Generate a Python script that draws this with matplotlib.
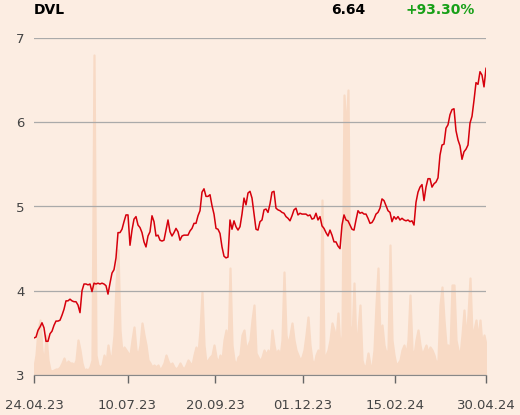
import numpy as np
import pandas as pd
import matplotlib
matplotlib.use("Agg")
import matplotlib.pyplot as plt
import matplotlib.dates as mdates

# Kursdaten DVL, gleichmaessig verteilt 24.04.23 - 30.04.24
start_date = "2023-04-24"
end_date = "2024-04-30"

prices = [
    3.44, 3.45, 3.53, 3.57, 3.62, 3.56, 3.40, 3.40, 3.49, 3.52,
    3.59, 3.64, 3.64, 3.65, 3.71, 3.78, 3.88, 3.88, 3.90, 3.88,
    3.87, 3.87, 3.83, 3.74, 4.00, 4.08, 4.08, 4.07, 4.08, 3.99,
    4.09, 4.08, 4.09, 4.08, 4.09, 4.08, 4.06, 3.96, 4.09, 4.21,
    4.25, 4.39, 4.69, 4.69, 4.73, 4.82, 4.90, 4.90, 4.54, 4.72,
    4.85, 4.88, 4.78, 4.75, 4.69, 4.58, 4.52, 4.65, 4.70, 4.89,
    4.82, 4.65, 4.66, 4.60, 4.59, 4.60, 4.72, 4.84, 4.70, 4.65,
    4.69, 4.74, 4.70, 4.60, 4.65, 4.66, 4.66, 4.66, 4.71, 4.74,
    4.80, 4.80, 4.89, 4.95, 5.17, 5.21, 5.12, 5.12, 5.14, 5.01,
    4.91, 4.74, 4.73, 4.68, 4.52, 4.41, 4.39, 4.40, 4.84, 4.73,
    4.83, 4.76, 4.72, 4.76, 4.91, 5.10, 5.02, 5.16, 5.18, 5.10,
    4.91, 4.73, 4.72, 4.82, 4.84, 4.96, 4.97, 4.93, 5.03, 5.17,
    5.18, 4.98, 4.96, 4.95, 4.93, 4.92, 4.88, 4.86, 4.83, 4.89,
    4.96, 4.98, 4.90, 4.92, 4.91, 4.91, 4.91, 4.89, 4.90, 4.85,
    4.86, 4.92, 4.84, 4.88, 4.77, 4.74, 4.69, 4.65, 4.72, 4.66,
    4.58, 4.58, 4.53, 4.50, 4.78, 4.90, 4.84, 4.83, 4.78, 4.73,
    4.72, 4.84, 4.95, 4.92, 4.93, 4.91, 4.91, 4.86, 4.80, 4.81,
    4.85, 4.91, 4.93, 4.98, 5.09, 5.07, 5.01, 4.95, 4.93, 4.82,
    4.88, 4.85, 4.88, 4.84, 4.86, 4.84, 4.83, 4.84, 4.82, 4.83,
    4.78, 5.05, 5.17, 5.23, 5.26, 5.07, 5.23, 5.33, 5.33, 5.23,
    5.27, 5.29, 5.34, 5.61, 5.73, 5.74, 5.93, 5.97, 6.09, 6.15,
    6.16, 5.90, 5.79, 5.72, 5.56, 5.65, 5.68, 5.73, 5.99, 6.07,
    6.26, 6.47, 6.45, 6.60, 6.56, 6.42, 6.64,
]

# Umsatz (relative Einheiten)
volume = [
    8, 20, 45, 55, 25, 10, 40, 15, 5, 4,
    5, 6, 6, 8, 12, 17, 10, 14, 12, 12,
    10, 15, 35, 25, 12, 5, 6, 5, 8, 15,
    320, 20, 10, 8, 10, 20, 12, 30, 17, 20,
    40, 90, 125, 45, 22, 28, 25, 22, 20, 35,
    48, 25, 20, 30, 52, 40, 30, 15, 12, 8,
    10, 8, 10, 5, 8, 12, 20, 14, 10, 12,
    8, 6, 8, 12, 8, 6, 10, 15, 12, 10,
    20, 28, 22, 45, 83, 30, 12, 15, 18, 20,
    30, 18, 12, 20, 15, 35, 45, 22, 107, 30,
    15, 10, 18, 20, 40, 45, 25, 30, 35, 55,
    70, 22, 18, 14, 18, 25, 20, 25, 18, 45,
    30, 20, 25, 18, 35, 103, 40, 30, 40, 52,
    35, 25, 20, 15, 18, 25, 40, 58, 30, 15,
    10, 20, 25, 20, 175, 15, 20, 25, 35, 52,
    45, 35, 62, 25, 40, 280, 240, 285, 50, 35,
    92, 25, 45, 70, 15, 8, 10, 22, 10, 8,
    25, 70, 107, 35, 50, 30, 22, 25, 130, 35,
    20, 10, 12, 15, 25, 30, 20, 35, 80, 25,
    20, 35, 45, 30, 20, 25, 30, 22, 28, 25,
    20, 12, 15, 70, 88, 55, 30, 30, 25, 90,
    90, 35, 25, 20, 40, 65, 35, 60, 97, 40,
    45, 55, 35, 55, 30, 40, 30,
]

tick_dates = ["2023-04-24", "2023-07-10", "2023-09-20",
              "2023-12-01", "2024-02-15", "2024-04-30"]

title = "DVL"
last_price = "6.64"
change = "+93.30%"

bg = "#fcede2"
vol_color = "#f8dac5"
dates = pd.date_range(start_date, end_date, periods=len(prices))

fig = plt.figure(figsize=(5.2, 4.15), dpi=100, facecolor=bg)
ax_v = fig.add_axes([34 / 520, 1 - 375 / 415, 452 / 520, 337 / 415])
ax = ax_v.twinx()

# Umsatz als Flaeche im Hintergrund
ax_v.fill_between(dates, 0, volume, facecolor=vol_color, edgecolor=vol_color,
                  lw=1.6, zorder=1)
ax_v.set_ylim(0, 337)
ax_v.set_facecolor(bg)
ax_v.set_yticks([])

# Kurslinie
ax.plot(dates, prices, color="#d6000c", lw=1.1, zorder=3)
ax.set_ylim(3, 7)
ax.set_yticks([3, 4, 5, 6, 7])
ax.yaxis.set_ticks_position("left")
ax.yaxis.set_label_position("left")
ax.tick_params(axis="y", length=0, pad=7, labelsize=9.5, labelcolor="#444444")
ax.grid(axis="y", color="#aaaaaa", lw=0.9)
ax.set_axisbelow(False)

ax_v.set_xlim(dates[0], dates[-1])
ax_v.set_xticks(pd.to_datetime(tick_dates))
ax_v.xaxis.set_major_formatter(mdates.DateFormatter("%d.%m.%y"))
ax_v.tick_params(axis="x", length=6, width=1, color="#666666", pad=11,
                 labelsize=9.5, labelcolor="#444444")

for a in (ax, ax_v):
    for s in ("top", "right", "left"):
        a.spines[s].set_visible(False)
ax.spines["bottom"].set_visible(False)
ax_v.spines["bottom"].set_color("#888888")

fig.text(34 / 520, 1 - 10 / 415, title, fontsize=10, fontweight="bold",
         color="black", va="center", ha="left")
fig.text(365 / 520, 1 - 10 / 415, last_price, fontsize=10, fontweight="bold",
         color="black", va="center", ha="right")
fig.text(475 / 520, 1 - 10 / 415, change, fontsize=10, fontweight="bold",
         color="#18a018", va="center", ha="right")

fig.savefig("out.png", dpi=100, facecolor=bg)
